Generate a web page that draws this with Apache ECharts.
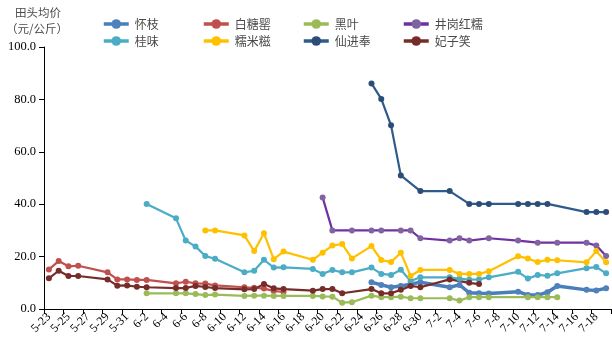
<!DOCTYPE html>
<html><head><meta charset="utf-8">
<script src="https://cdn.jsdelivr.net/npm/echarts@6/dist/echarts.min.js"></script>
<style>html,body{margin:0;padding:0;background:#fff}#c{width:612px;height:355px}</style>
</head><body><div id="c"></div>
<script>
// categories: every day 5-23 .. 7-19
const dates = ["5-23","5-24","5-25","5-26","5-27","5-28","5-29","5-30","5-31",
"6-1","6-2","6-3","6-4","6-5","6-6","6-7","6-8","6-9","6-10","6-11","6-12","6-13","6-14","6-15","6-16","6-17","6-18","6-19","6-20","6-21","6-22","6-23","6-24","6-25","6-26","6-27","6-28","6-29","6-30",
"7-1","7-2","7-3","7-4","7-5","7-6","7-7","7-8","7-9","7-10","7-11","7-12","7-13","7-14","7-15","7-16","7-17","7-18","7-19"];
const yTicks = [0,20,40,60,80,100];

const huaizhi = [["6-25",10.2],["6-26",9.2],["6-27",8.3],["6-28",8.8],["6-29",9.5],["6-30",10.2],["7-3",8.3],["7-4",9.2],["7-5",6.2],["7-6",6.0],["7-7",5.9],["7-10",6.6],["7-11",5.3],["7-12",5.3],["7-13",6.4],["7-14",8.8],["7-17",7.3],["7-18",7.1],["7-19",7.9]];
const baitangying = [["5-23",15.1],["5-24",18.3],["5-25",16.3],["5-26",16.5],["5-29",14.0],["5-30",11.3],["5-31",11.3],["6-1",11.1],["6-2",11.1],["6-5",9.8],["6-6",10.4],["6-7",9.8],["6-8",9.7],["6-9",9.0],["6-12",8.3],["6-13",8.1],["6-14",7.8],["6-15",6.9],["6-16",6.5]];
const heiye = [["6-2",6.0],["6-5",6.0],["6-6",6.0],["6-7",5.7],["6-8",5.3],["6-9",5.5],["6-12",5.0],["6-13",5.1],["6-14",5.1],["6-15",5.0],["6-16",5.0],["6-19",5.0],["6-20",4.8],["6-21",4.7],["6-22",2.4],["6-23",2.6],["6-25",5.1],["6-26",4.5],["6-27",4.5],["6-28",4.7],["6-29",4.1],["6-30",4.1],["7-3",4.1],["7-4",3.2],["7-5",4.5],["7-6",4.5],["7-7",4.5],["7-11",4.5],["7-12",4.5],["7-13",4.5],["7-14",4.5]];
const jinggang = [["6-20",42.6],["6-21",30.0],["6-23",30.0],["6-25",30.0],["6-26",30.0],["6-28",30.0],["6-29",30.0],["6-30",27.0],["7-3",26.1],["7-4",27.0],["7-5",26.1],["7-7",27.0],["7-10",26.1],["7-12",25.3],["7-14",25.3],["7-17",25.3],["7-18",24.2],["7-19",20.2]];
const guiwei = [["6-2",40.1],["6-5",34.6],["6-6",26.1],["6-7",23.9],["6-8",20.2],["6-9",19.2],["6-12",14.0],["6-13",14.6],["6-14",18.8],["6-15",15.8],["6-16",15.9],["6-19",15.3],["6-20",13.4],["6-21",14.9],["6-22",14.0],["6-23",14.0],["6-25",15.8],["6-26",13.4],["6-27",13.0],["6-28",15.0],["6-29",10.7],["6-30",12.1],["7-3",12.1],["7-4",11.5],["7-5",11.2],["7-6",11.3],["7-7",12.1],["7-10",14.2],["7-11",11.6],["7-12",13.0],["7-13",12.7],["7-14",13.6],["7-17",15.6],["7-18",16.0],["7-19",13.6]];
const nuomici = [["6-8",30.0],["6-9",30.0],["6-12",28.1],["6-13",22.1],["6-14",28.9],["6-15",19.0],["6-16",21.9],["6-19",18.8],["6-20",21.5],["6-21",24.2],["6-22",24.8],["6-23",19.3],["6-25",24.0],["6-26",18.7],["6-27",17.9],["6-28",21.5],["6-29",12.6],["6-30",14.9],["7-3",14.9],["7-4",13.4],["7-5",13.4],["7-6",13.4],["7-7",14.4],["7-10",20.1],["7-11",19.3],["7-12",17.9],["7-13",18.8],["7-14",18.6],["7-17",17.8],["7-18",22.1],["7-19",17.8]];
const xianjinfeng = [["6-25",86.1],["6-26",80.2],["6-27",70.1],["6-28",51.0],["6-30",45.0],["7-3",45.0],["7-5",40.1],["7-6",40.1],["7-7",40.1],["7-10",40.1],["7-11",40.1],["7-12",40.1],["7-13",40.1],["7-17",37.0],["7-18",37.0],["7-19",37.0]];
const feizixiao = [["5-23",11.7],["5-24",14.6],["5-25",12.6],["5-26",12.6],["5-29",11.3],["5-30",8.9],["5-31",9.0],["6-1",8.5],["6-2",8.3],["6-5",8.0],["6-6",8.0],["6-7",8.8],["6-8",8.4],["6-9",8.0],["6-12",7.5],["6-13",7.6],["6-14",9.5],["6-15",7.9],["6-16",7.6],["6-19",7.0],["6-20",7.6],["6-21",7.6],["6-22",6.0],["6-25",7.6],["6-26",6.0],["6-27",6.0],["6-28",7.3],["6-29",8.8],["6-30",8.3],["7-3",11.3],["7-5",10.0],["7-6",9.5]];

const names = ["怀枝","白糖罂","黑叶","井岗红糯","桂味","糯米糍","仙进奉","妃子笑"];
const values = [huaizhi,baitangying,heiye,jinggang,guiwei,nuomici,xianjinfeng,feizixiao];
const lineColors = ["#4A7EBB","#C0504D","#9BBB59","#7030A0","#4BACC6","#FFC000","#2F5A8C","#772C2A"];
const dotColors  = ["#4F81BD","#C0504D","#9BBB59","#8064A2","#4BACC6","#FFC000","#2C4D75","#772C2A"];
const widths = [3.5,2.2,2.2,2.2,2.2,2.2,2.2,2.2];

function toRow(pairs){
  const row = dates.map(()=>null);
  pairs.forEach(p=>{ row[dates.indexOf(p[0])] = p[1]; });
  return row;
}

const series = names.map((n,k)=>({
  name:n, type:'line', data:toRow(values[k]), connectNulls:true,
  symbol:'circle', symbolSize:6, showSymbol:true,
  lineStyle:{color:lineColors[k], width:widths[k]},
  itemStyle:{color:dotColors[k]},
  emphasis:{disabled:true}, animation:false, z: 2
}));

const legendPos = [[102,18],[202,18],[302,18],[402,18],[102,35],[202,35],[302,35],[402,35]];
const legends = names.map((n,k)=>({
  data:[n], left:legendPos[k][0], top:legendPos[k][1],
  itemWidth:25, itemHeight:12, itemGap:0, padding:0,
  lineStyle:{width:3.5, color:lineColors[k]},
  itemStyle:{color:dotColors[k]},
  textStyle:{fontFamily:'Noto Sans CJK SC', fontSize:12, color:'#4a4a4a', padding:[0,0,0,1]},
  selectedMode:false
}));

const chart = echarts.init(document.getElementById('c'), null, {renderer:'canvas'});
chart.setOption({
  animation:false,
  backgroundColor:'#fff',
  grid:{left:44, right:1, top:47, bottom:46, containLabel:false},
  legend: legends,
  graphic:[
    {type:'text', x:38, y:13, style:{text:'田头均价', fontFamily:'Noto Sans CJK SC', fontSize:11.5, fill:'#4a4a4a', textAlign:'center', textVerticalAlign:'middle'}},
    {type:'text', x:37, y:29, style:{text:'（元/公斤）', fontFamily:'Noto Sans CJK SC', fontSize:11.5, fill:'#4a4a4a', textAlign:'center', textVerticalAlign:'middle'}}
  ],
  xAxis:{
    type:'category', data:dates, boundaryGap:true,
    axisLine:{lineStyle:{color:'#000', width:1}},
    axisTick:{show:true, interval:1, length:5, lineStyle:{color:'#000'}},
    axisLabel:{interval:1, rotate:45, margin:6, fontFamily:'Liberation Serif', fontSize:12, color:'#000'},
    splitLine:{show:false}
  },
  yAxis:{
    type:'value', min:yTicks[0], max:yTicks[yTicks.length-1], interval:20,
    axisLine:{show:true, lineStyle:{color:'#000', width:1}},
    axisTick:{show:true, length:5, lineStyle:{color:'#000'}},
    axisLabel:{formatter:v=>v.toFixed(1), margin:8, fontFamily:'Liberation Serif', fontSize:12.5, color:'#000'},
    splitLine:{show:false}
  },
  series: series
});
</script></body></html>
